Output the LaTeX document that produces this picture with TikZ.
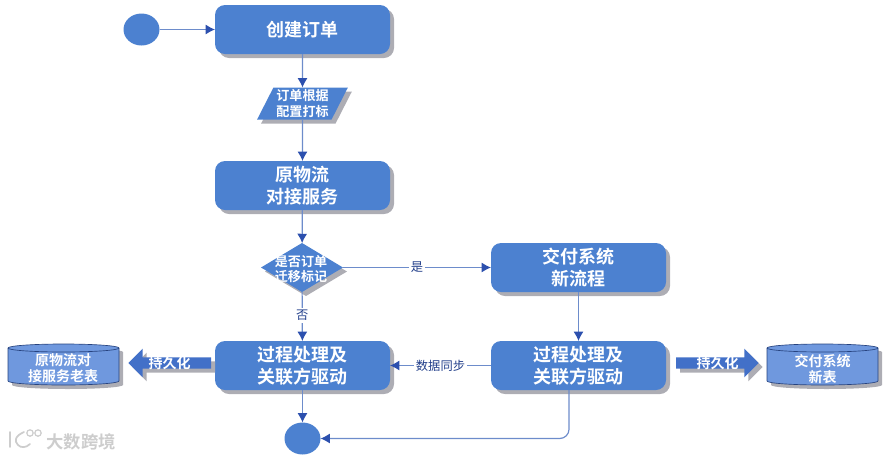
\documentclass[tikz,border=0pt]{standalone}
\usepackage{fontspec}
\setmainfont{Noto Sans CJK SC}
\newfontfamily\boldcjk{Noto Sans CJK SC Bold}
\usetikzlibrary{shapes.geometric,shapes.arrows,shadows,arrows.meta,calc}
\definecolor{boxblue}{HTML}{4C81D0}
\definecolor{linkblue}{HTML}{6D8CCB}
\definecolor{headblue}{HTML}{2C50AE}
\definecolor{shadowgrey}{HTML}{ADADB4}
\definecolor{cylblue}{HTML}{6F98DE}
\definecolor{cyledge}{HTML}{27437F}
\definecolor{blockblue}{HTML}{4270C8}
\definecolor{markgrey}{HTML}{CDCDCD}
\tikzset{
  shade3/.style={copy shadow={shadow xshift=3pt,shadow yshift=-3pt,fill=shadowgrey,draw=none}},
  procbox/.style={shape=rectangle,rounded corners=7.5pt,fill=boxblue,minimum width=131.25pt,minimum height=36.75pt,
    text=white,align=center,font=\boldcjk\fontsize{13.5}{16.5}\selectfont,inner sep=0pt,outer sep=0pt,shade3,
    execute at end node={\par\vspace{1.5pt}}},
  terminal/.style={shape=ellipse,fill=boxblue,minimum width=27pt,minimum height=24pt,inner sep=0pt,outer sep=0pt},
  para/.style={shape=trapezium,trapezium stretches=true,trapezium left angle=62,trapezium right angle=118,fill=boxblue,
    minimum width=68.25pt,minimum height=24pt,text=white,align=center,font=\boldcjk\fontsize{9.8}{11.5}\selectfont,inner sep=0pt,outer sep=0pt,shade3},
  decide/.style={shape=diamond,aspect=1.67,fill=boxblue,minimum width=61.5pt,minimum height=36.75pt,inner sep=0pt,outer sep=0pt,shade3},
  decidetext/.style={text=white,align=center,font=\boldcjk\fontsize{9.8}{11.3}\selectfont,inner sep=0pt},
  storetext/.style={text=white,align=center,font=\boldcjk\fontsize{10.5}{12}\selectfont,inner sep=0pt},
  blockarrow/.style={shape=single arrow,fill=blockblue,minimum width=21pt,minimum height=62pt,inner sep=4.1pt,
    single arrow head extend=6.4pt,single arrow head indent=0pt,outer sep=0pt,anchor=tail,
    copy shadow={shadow xshift=3pt,shadow yshift=-3pt,fill=shadowgrey,draw=none}},
  blocktext/.style={text=white,font=\boldcjk\fontsize{10.5}{12}\selectfont,inner sep=0pt},
  link/.style={draw=linkblue,line width=.9pt,-{Latex[length=7pt,width=7.5pt,color=headblue]}},
  linktext/.style={fill=white,text=headblue!80!black,font=\fontsize{9.2}{10}\selectfont,inner sep=1.5pt},
  marktext/.style={text=markgrey,font=\boldcjk\fontsize{13}{15}\selectfont,inner sep=0pt},
  markline/.style={draw=markgrey,line width=1.3pt,line cap=round},
}
\newcommand{\storeshape}[2]{%
  \fill[shadowgrey,shift={(#1+4,#2+4)}] (-55.5,-16.5) -- (-55.5,16.5) arc[start angle=180,end angle=0,x radius=55.5,y radius=4] -- (55.5,-16.5) arc[start angle=0,end angle=-180,x radius=55.5,y radius=4] -- cycle;
  \filldraw[fill=cylblue,draw=cyledge,line width=.5pt,shift={(#1,#2)}] (-55.5,-16.5) -- (-55.5,16.5) arc[start angle=180,end angle=0,x radius=55.5,y radius=4] -- (55.5,-16.5) arc[start angle=0,end angle=-180,x radius=55.5,y radius=4] -- cycle;
  \draw[cyledge,line width=.5pt,shift={(#1,#2)}] (-55.5,-16.5) arc[start angle=180,end angle=0,x radius=55.5,y radius=4];
}
\begin{document}
\begin{tikzpicture}[x=.75pt,y=-.75pt]
\useasboundingbox (0,0) rectangle (889,458);
\node[terminal] (start) at (141.5,29.5) {};
\node[procbox] (create) at (302.5,29.5) {创建订单};
\node[para] (tag) at (302.5,103.5) {订单根据\\配置打标};
\node[procbox] (dock) at (302.5,185.5) {原物流\\对接服务};
\node[decide] (check) at (302,267.5) {};
\node[decidetext] (checktext) at (301,269) {是否订单\\迁移标记};
\node[procbox] (newflow) at (578.5,267.5) {交付系统\\新流程};
\node[procbox] (oldproc) at (302.5,365.5) {过程处理及\\关联方驱动};
\node[procbox] (newproc) at (578.5,365.5) {过程处理及\\关联方驱动};
\node[terminal] (finish) at (302.5,438.5) {};
\storeshape{63.5}{364.5}
\node[storetext] (oldstore) at (63,368.5) {原物流对\\接服务老表};
\storeshape{822.5}{364.5}
\node[storetext] (newstore) at (822.5,369) {交付系统\\新表};
\node[blockarrow,shape border rotate=180] (oldarrow) at (211,363) {};
\node[blocktext] (oldarrowtext) at (169.5,363) {持久化};
\node[blockarrow] (newarrow) at (676,363) {};
\node[blocktext] (newarrowtext) at (717.5,363) {持久化};
\draw[link] (start) -- (create);
\draw[link] (create) -- (tag);
\draw[link] (tag) -- (dock);
\draw[link] (dock) -- (check);
\draw[link] (check) -- node[linktext] (yes) {是} (newflow);
\draw[link] (check) -- node[linktext,pos=.48] (no) {否} (oldproc);
\draw[link] (newflow) -- (newproc);
\draw[link] (newproc) -- node[linktext,pos=.5] (sync) {数据同步} (oldproc);
\draw[link] (oldproc) -- (finish);
\draw[link,rounded corners=7pt] ([xshift=-7.1pt]newproc.south) |- (finish.east);
\draw[markline] (10,432) -- (10,447) (24,432) .. controls (15,436) and (14,441) .. (18,445) (18,445) .. controls (21,448) and (26,448) .. (30,444);
\draw[markline,line width=.9pt] (30,433) circle (3.2) (38,433) circle (3.2);
\node[marktext] (mark) at (81,442) {大数跨境};
\end{tikzpicture}
\end{document}
